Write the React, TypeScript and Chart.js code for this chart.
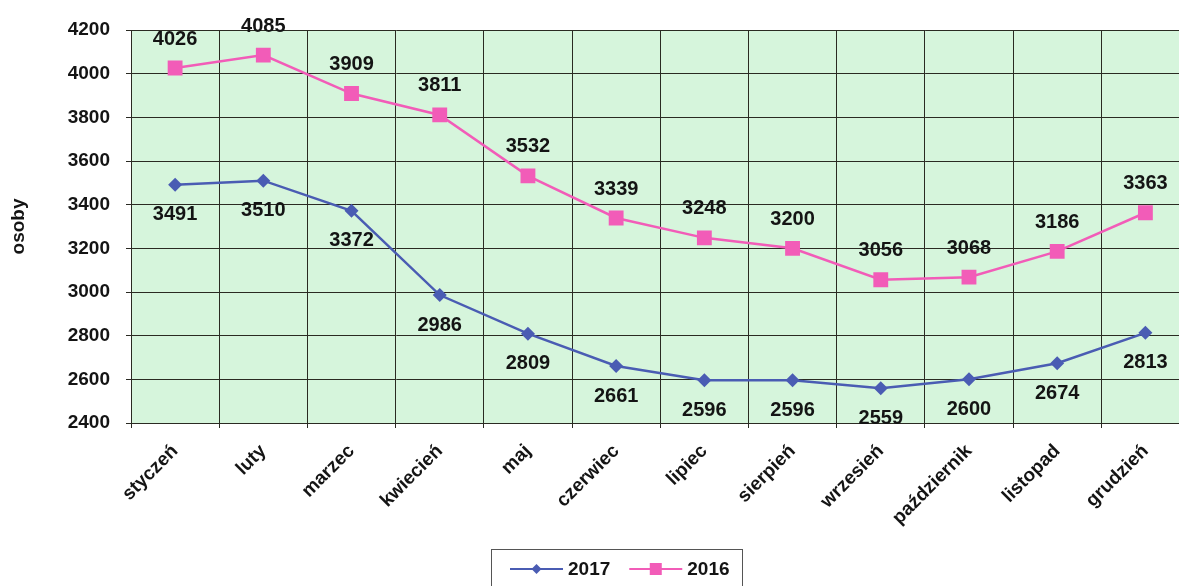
import React, { useEffect, useRef } from 'react';
import { Chart, registerables } from 'chart.js';

Chart.register(...registerables);

const months = ['styczeń', 'luty', 'marzec', 'kwiecień', 'maj', 'czerwiec', 'lipiec', 'sierpień', 'wrzesień', 'październik', 'listopad', 'grudzień'];
const values2017 = [3491, 3510, 3372, 2986, 2809, 2661, 2596, 2596, 2559, 2600, 2674, 2813];
const values2016 = [4026, 4085, 3909, 3811, 3532, 3339, 3248, 3200, 3056, 3068, 3186, 3363];
const seriesNames = ['2017', '2016'];
const yMin = 2400;
const yMax = 4200;
const yStep = 200;
const yTitle = 'osoby';

const FONT = "'Liberation Sans', Arial, sans-serif";
const BLUE = '#4a5cb3';
const PINK = '#f25cb8';
const PLOT_BG = '#d6f5dc';
const GRID = '#2a2a22';
const TEXT = '#141414';

const W = 1200;
const H = 600;

const plotBgPlugin = {
  id: 'plotBg',
  beforeDraw(chart: any) {
    const { ctx, chartArea } = chart;
    ctx.save();
    ctx.fillStyle = PLOT_BG;
    ctx.fillRect(chartArea.left, chartArea.top, chartArea.right - chartArea.left, chartArea.bottom - chartArea.top);
    ctx.restore();
  },
};

const dataLabelPlugin = {
  id: 'dataLabels',
  afterDatasetsDraw(chart: any) {
    const { ctx } = chart;
    ctx.save();
    ctx.font = `bold 20px ${FONT}`;
    ctx.fillStyle = TEXT;
    ctx.textAlign = 'center';
    ctx.textBaseline = 'middle';
    chart.data.datasets.forEach((ds: any, di: number) => {
      const meta = chart.getDatasetMeta(di);
      const off = ds.labelSide === 'above' ? -29 : 30;
      meta.data.forEach((pt: any, i: number) => {
        ctx.fillText(String(ds.data[i]), pt.x, pt.y + off);
      });
    });
    ctx.restore();
  },
};

const legendPlugin = {
  id: 'boxLegend',
  afterDraw(chart: any) {
    const { ctx } = chart;
    const boxLeft = 491;
    const boxTop = 549;
    const boxW = 251;
    const boxH = 44;
    const cy = 569;
    ctx.save();
    ctx.fillStyle = '#fff';
    ctx.fillRect(boxLeft, boxTop, boxW, boxH);
    ctx.strokeStyle = '#555';
    ctx.lineWidth = 1;
    ctx.strokeRect(boxLeft + 0.5, boxTop + 0.5, boxW, boxH);
    const items = chart.data.datasets;
    let x = boxLeft + 19;
    ctx.font = `bold 19px ${FONT}`;
    ctx.textBaseline = 'middle';
    ctx.textAlign = 'left';
    items.forEach((ds: any) => {
      const lineLen = 53;
      ctx.strokeStyle = ds.borderColor;
      ctx.lineWidth = 2;
      ctx.beginPath();
      ctx.moveTo(x, cy);
      ctx.lineTo(x + lineLen, cy);
      ctx.stroke();
      ctx.fillStyle = ds.backgroundColor;
      const mx = x + lineLen / 2;
      if (ds.pointStyle === 'rectRot') {
        const r = 5;
        ctx.beginPath();
        ctx.moveTo(mx, cy - r);
        ctx.lineTo(mx + r, cy);
        ctx.lineTo(mx, cy + r);
        ctx.lineTo(mx - r, cy);
        ctx.closePath();
        ctx.fill();
      } else {
        const s = 6;
        ctx.fillRect(mx - s, cy - s, 2 * s, 2 * s);
      }
      ctx.fillStyle = TEXT;
      ctx.fillText(ds.label, x + lineLen + 5, cy + 1);
      x += lineLen + 5 + ctx.measureText(ds.label).width + 19;
    });
    ctx.restore();
  },
};

export default function App() {
  const ref = useRef<HTMLCanvasElement | null>(null);

  useEffect(() => {
    document.body.style.margin = '0';
    const canvas = ref.current;
    if (!canvas) return;
    const chart = new Chart(canvas, {
      type: 'line',
      data: {
        labels: months,
        datasets: [
          {
            label: seriesNames[0],
            data: values2017,
            borderColor: BLUE,
            backgroundColor: BLUE,
            borderWidth: 2.5,
            pointStyle: 'rectRot',
            pointRadius: 7,
            pointHoverRadius: 7,
            pointBorderWidth: 0,
            tension: 0,
            labelSide: 'below',
          } as any,
          {
            label: seriesNames[1],
            data: values2016,
            borderColor: PINK,
            backgroundColor: PINK,
            borderWidth: 2.5,
            pointStyle: 'rect',
            pointRadius: 10.5,
            pointHoverRadius: 10.5,
            pointBorderWidth: 0,
            tension: 0,
            labelSide: 'above',
          } as any,
        ],
      },
      options: {
        responsive: false,
        animation: false,
        devicePixelRatio: 1,
        layout: { padding: { top: 30, right: W - 1192, left: 0, bottom: 0 } },
        plugins: {
          legend: { display: false },
          tooltip: { enabled: false },
        },
        scales: {
          x: {
            type: 'category',
            offset: true,
            grid: {
              offset: true,
              color: GRID,
              lineWidth: 1,
              tickLength: 5,
              drawTicks: true,
            },
            border: { color: GRID, width: 1 },
            ticks: {
              minRotation: 45,
              maxRotation: 45,
              padding: 12,
              color: TEXT,
              font: { family: FONT, size: 19, weight: 'bold' },
            },
            afterFit(scale: any) {
              scale.height = H - 423;
            },
          },
          y: {
            min: yMin,
            max: yMax,
            ticks: {
              stepSize: yStep,
              padding: 16,
              color: TEXT,
              font: { family: FONT, size: 19, weight: 'bold' },
              callback: (v: any) => String(v),
            },
            grid: { color: GRID, lineWidth: 1, tickLength: 5 },
            border: { color: GRID, width: 1 },
            title: {
              display: true,
              text: yTitle,
              color: TEXT,
              font: { family: FONT, size: 19, weight: 'bold' },
              padding: { top: 7, bottom: 0 },
            },
            afterFit(scale: any) {
              scale.width = 131;
            },
          },
        },
      },
      plugins: [plotBgPlugin, dataLabelPlugin, legendPlugin],
    });
    return () => chart.destroy();
  }, []);

  return (
    <div style={{ width: 1179, height: 586, overflow: 'hidden', position: 'relative', background: '#fff' }}>
      <canvas ref={ref} width={W} height={H} style={{ width: W, height: H, display: 'block' }} />
    </div>
  );
}
